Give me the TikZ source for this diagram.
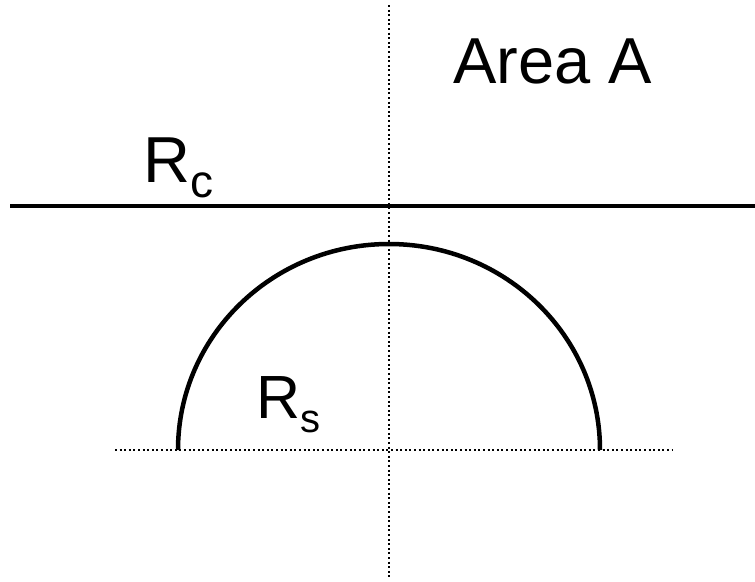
\documentclass[tikz,border=0pt]{standalone}
\usepackage{fontspec}
\setmainfont{Liberation Sans}
\usetikzlibrary{positioning,calc}

\begin{document}
\begin{tikzpicture}[
        x=1pt, y=-1pt,
        bigtext/.style={inner sep=0pt, anchor=base west, font=\fontsize{65}{70}\selectfont},
        solidline/.style={line width=4.5pt},
        dotline/.style={line width=2pt, dash pattern=on 2pt off 2.6pt}
    ]
        \useasboundingbox (0,0) rectangle (755,581);

        % axes
        \coordinate (vtop) at (389,5);
        \coordinate (vbot) at (389,577);
        \coordinate (hleft) at (115,450);
        \coordinate (hright) at (672,450);
        \coordinate (cleft) at (10,206);
        \coordinate (cright) at (755,206);
        \draw[dotline] (vtop) -- (vbot);
        \draw[dotline] (hleft) -- (hright);
        \draw[solidline] (cleft) -- (cright);

        % half ellipse
        \coordinate (arcstart) at (178,450);
        \draw[solidline] (arcstart) arc[start angle=180, end angle=0, x radius=211, y radius=-206];

        \node[bigtext] (areaA) at (453,83) {Area A};
        \node[bigtext] (rc) at (143,182) {R\raisebox{-15pt}{\fontsize{46}{50}\selectfont c}};
        \node[bigtext, font=\fontsize{61}{66}\selectfont] (rs) at (256,418) {R\raisebox{-14pt}{\fontsize{40}{44}\selectfont s}};
    \end{tikzpicture}
\end{document}
